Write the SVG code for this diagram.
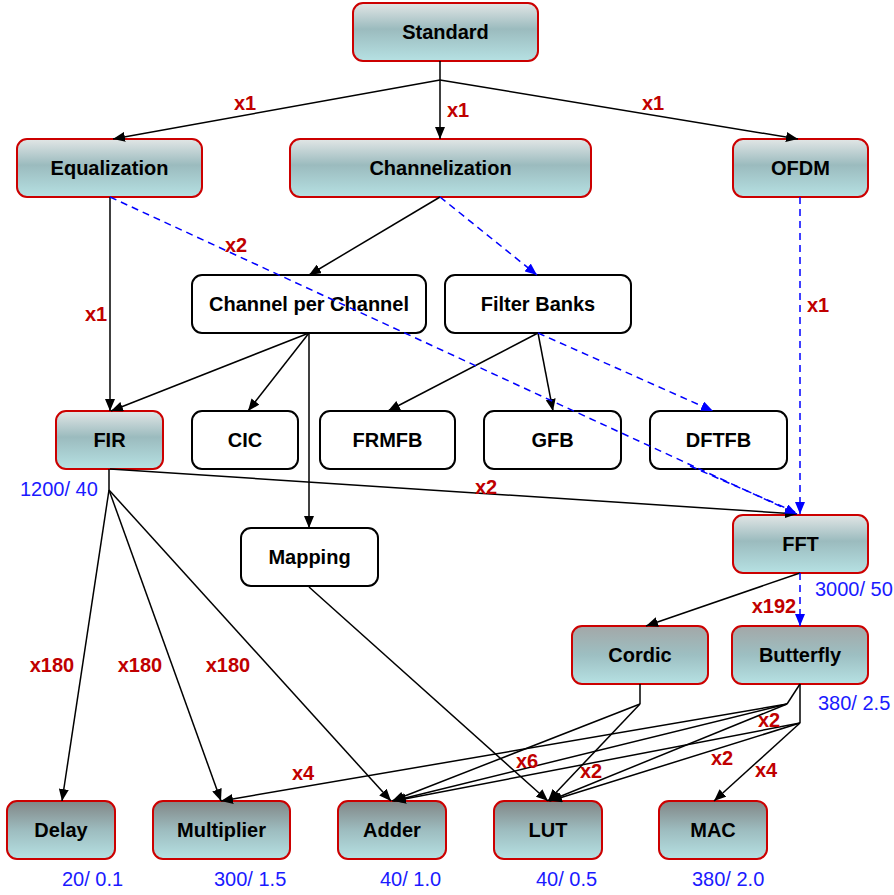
<svg xmlns="http://www.w3.org/2000/svg" width="894" height="895" viewBox="0 0 894 895">
<defs>
<linearGradient id="g1" x1="0" y1="0" x2="0" y2="1">
<stop offset="0" stop-color="#e2e6e6"/><stop offset="0.45" stop-color="#9bbbbe"/><stop offset="1" stop-color="#b6e1e3"/>
</linearGradient>
<linearGradient id="g2" x1="0" y1="0" x2="0" y2="1">
<stop offset="0" stop-color="#a3a7a7"/><stop offset="0.5" stop-color="#9dbfc2"/><stop offset="1" stop-color="#b6e1e3"/>
</linearGradient>
<linearGradient id="g3" x1="0" y1="0" x2="0" y2="1">
<stop offset="0" stop-color="#818686"/><stop offset="0.5" stop-color="#9dbcbf"/><stop offset="1" stop-color="#b6e1e3"/>
</linearGradient>
<marker id="ab" markerUnits="userSpaceOnUse" markerWidth="14" markerHeight="10" refX="12" refY="5" orient="auto">
<path d="M0,0 L12,5 L0,10 z" fill="#000"/>
</marker>
<marker id="au" markerUnits="userSpaceOnUse" markerWidth="14" markerHeight="10" refX="12" refY="5" orient="auto">
<path d="M0,0 L12,5 L0,10 z" fill="#0000ff"/>
</marker>
</defs>
<style>
.n1{fill:url(#g1);stroke:#cc0000;stroke-width:2}
.n2{fill:url(#g2);stroke:#cc0000;stroke-width:2}
.n3{fill:url(#g3);stroke:#cc0000;stroke-width:2}
.nw{fill:#fff;stroke:#000;stroke-width:2}
.t{font-family:"Liberation Sans",Arial,sans-serif;font-weight:bold;font-size:20px;fill:#000;text-anchor:middle}
.r{font-family:"Liberation Sans",Arial,sans-serif;font-weight:bold;font-size:20px;fill:#c00000;text-anchor:middle}
.v{font-family:"Liberation Sans",Arial,sans-serif;font-size:20px;fill:#1a1aff}
.l{fill:none;stroke:#000;stroke-width:1.5}
.la{fill:none;stroke:#000;stroke-width:1.5;marker-end:url(#ab)}
.d{fill:none;stroke:#0000ff;stroke-width:1.5;stroke-dasharray:7,5}
.da{fill:none;stroke:#0000ff;stroke-width:1.5;stroke-dasharray:7,5;marker-end:url(#au)}
</style>
<g id="n-standard"><rect class="n1" x="353" y="3" width="185" height="58" rx="10"/><text class="t" x="445.5" y="39">Standard</text></g>
<g id="n-equalization"><rect class="n1" x="17" y="139" width="185" height="58" rx="10"/><text class="t" x="109.5" y="175">Equalization</text></g>
<g id="n-channelization"><rect class="n1" x="290" y="139" width="301" height="58" rx="10"/><text class="t" x="440.5" y="175">Channelization</text></g>
<g id="n-ofdm"><rect class="n1" x="733" y="139" width="135" height="58" rx="10"/><text class="t" x="800.5" y="175">OFDM</text></g>
<g id="n-cpc"><rect class="nw" x="192" y="275" width="234" height="58" rx="10"/><text class="t" x="309" y="311">Channel per Channel</text></g>
<g id="n-filterbanks"><rect class="nw" x="445" y="275" width="186" height="58" rx="10"/><text class="t" x="538" y="311">Filter Banks</text></g>
<g id="n-fir"><rect class="n1" x="56" y="411" width="107" height="58" rx="10"/><text class="t" x="109.5" y="447">FIR</text></g>
<g id="n-cic"><rect class="nw" x="192" y="411" width="106" height="58" rx="10"/><text class="t" x="245" y="447">CIC</text></g>
<g id="n-frmfb"><rect class="nw" x="320" y="411" width="135" height="58" rx="10"/><text class="t" x="387.5" y="447">FRMFB</text></g>
<g id="n-gfb"><rect class="nw" x="484" y="411" width="137" height="58" rx="10"/><text class="t" x="552.5" y="447">GFB</text></g>
<g id="n-dftfb"><rect class="nw" x="650" y="411" width="137" height="58" rx="10"/><text class="t" x="718.5" y="447">DFTFB</text></g>
<g id="n-fft"><rect class="n1" x="733" y="515" width="135" height="58" rx="10"/><text class="t" x="800.5" y="551">FFT</text></g>
<g id="n-mapping"><rect class="nw" x="241" y="528" width="137" height="58" rx="10"/><text class="t" x="309.5" y="564">Mapping</text></g>
<g id="n-cordic"><rect class="n2" x="572" y="626" width="136" height="58" rx="10"/><text class="t" x="640" y="662">Cordic</text></g>
<g id="n-butterfly"><rect class="n2" x="732" y="626" width="136" height="58" rx="10"/><text class="t" x="800" y="662">Butterfly</text></g>
<g id="n-delay"><rect class="n3" x="7" y="801" width="108" height="58" rx="10"/><text class="t" x="61" y="837">Delay</text></g>
<g id="n-multiplier"><rect class="n3" x="153" y="801" width="137" height="58" rx="10"/><text class="t" x="221.5" y="837">Multiplier</text></g>
<g id="n-adder"><rect class="n3" x="338" y="801" width="108" height="58" rx="10"/><text class="t" x="392" y="837">Adder</text></g>
<g id="n-lut"><rect class="n3" x="494" y="801" width="108" height="58" rx="10"/><text class="t" x="548" y="837">LUT</text></g>
<g id="n-mac"><rect class="n3" x="659" y="801" width="108" height="58" rx="10"/><text class="t" x="713" y="837">MAC</text></g>
<g id="connectors">
<line class="l" x1="440" y1="61" x2="440" y2="80"/>
<line class="la" x1="440" y1="80" x2="440" y2="139"/>
<line class="la" x1="440" y1="80" x2="113" y2="139"/>
<line class="la" x1="440" y1="80" x2="798" y2="139"/>
<line class="la" x1="110" y1="197" x2="110" y2="411"/>
<line class="la" x1="440" y1="197" x2="309" y2="275"/>
<line class="la" x1="309" y1="333" x2="111" y2="411"/>
<line class="la" x1="309" y1="333" x2="248" y2="411"/>
<line class="la" x1="309" y1="333" x2="309" y2="528"/>
<line class="la" x1="538" y1="333" x2="388" y2="411"/>
<line class="la" x1="538" y1="333" x2="553" y2="411"/>
<line class="la" x1="110" y1="469" x2="797" y2="514"/>
<line class="l" x1="109" y1="469" x2="109" y2="490"/>
<line class="la" x1="109" y1="490" x2="62" y2="801"/>
<line class="la" x1="109" y1="490" x2="221" y2="801"/>
<line class="la" x1="109" y1="490" x2="391" y2="801"/>
<line class="la" x1="309" y1="587" x2="548" y2="801"/>
<line class="la" x1="800" y1="573" x2="646" y2="626"/>
<polyline class="l" points="640,684 640,704"/>
<line class="la" x1="640" y1="704" x2="392" y2="801"/>
<line class="la" x1="640" y1="704" x2="548" y2="801"/>
<polyline class="l" points="800,684 787,704"/>
<line class="la" x1="787" y1="704" x2="221" y2="801"/>
<line class="la" x1="787" y1="704" x2="393" y2="801"/>
<line class="la" x1="787" y1="704" x2="549" y2="801"/>
<polyline class="l" points="800,684 800,723"/>
<line class="la" x1="800" y1="723" x2="394" y2="801"/>
<line class="la" x1="800" y1="723" x2="550" y2="801"/>
<line class="la" x1="800" y1="723" x2="714" y2="801"/>
<line class="da" x1="440" y1="197" x2="537" y2="275"/>
<line class="da" x1="538" y1="333" x2="713" y2="411"/>
<line class="da" x1="800" y1="197" x2="800" y2="514"/>
<line class="da" x1="110" y1="197" x2="797" y2="514"/>
<line class="d" x1="690" y1="466" x2="795" y2="512"/>
<line class="da" x1="800" y1="573" x2="800" y2="626"/>
</g>
<g id="labels">
<text class="r" x="245" y="110">x1</text>
<text class="r" x="458" y="117">x1</text>
<text class="r" x="653" y="110">x1</text>
<text class="r" x="236" y="252">x2</text>
<text class="r" x="96" y="321">x1</text>
<text class="r" x="818" y="312">x1</text>
<text class="r" x="486" y="494">x2</text>
<text class="r" x="774" y="613">x192</text>
<text class="r" x="52" y="672">x180</text>
<text class="r" x="140" y="672">x180</text>
<text class="r" x="228" y="672">x180</text>
<text class="r" x="303" y="780">x4</text>
<text class="r" x="527" y="768">x6</text>
<text class="r" x="591" y="778">x2</text>
<text class="r" x="769" y="727">x2</text>
<text class="r" x="722" y="765">x2</text>
<text class="r" x="766" y="777">x4</text>
<text class="v" x="20" y="496">1200/ 40</text>
<text class="v" x="815" y="596">3000/ 50</text>
<text class="v" x="818" y="710">380/ 2.5</text>
<text class="v" x="62" y="886">20/ 0.1</text>
<text class="v" x="214" y="886">300/ 1.5</text>
<text class="v" x="380" y="886">40/ 1.0</text>
<text class="v" x="536" y="886">40/ 0.5</text>
<text class="v" x="692" y="886">380/ 2.0</text>
</g>
</svg>
